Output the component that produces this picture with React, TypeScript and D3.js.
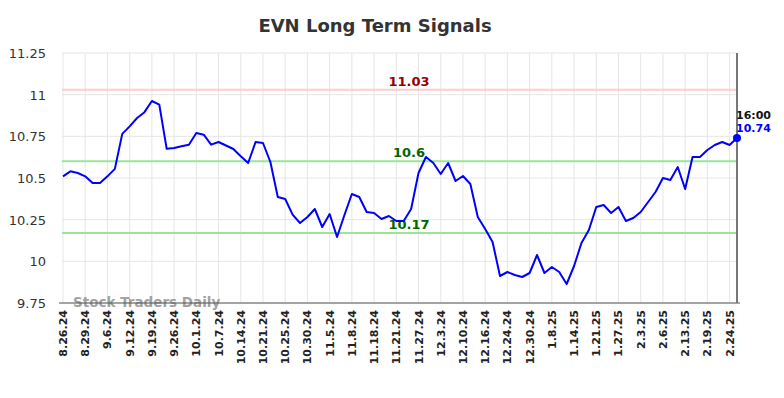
import React from "react";
import * as d3 from "d3";

const tickLabels = [
  "8.26.24","8.29.24","9.6.24","9.12.24","9.19.24","9.26.24","10.1.24","10.7.24",
  "10.14.24","10.21.24","10.25.24","10.30.24","11.5.24","11.8.24","11.18.24","11.21.24",
  "11.27.24","12.3.24","12.10.24","12.16.24","12.24.24","12.30.24","1.8.25","1.14.25",
  "1.21.25","1.27.25","2.3.25","2.6.25","2.13.25","2.19.25","2.24.25",
];
const tickStep = 3;

const prices = [
  10.51, 10.54, 10.53, 10.51, 10.47, 10.47, 10.51, 10.555, 10.765, 10.81,
  10.86, 10.895, 10.962, 10.94, 10.675, 10.68, 10.69, 10.70, 10.77, 10.76,
  10.70, 10.716, 10.695, 10.674, 10.63, 10.59, 10.716, 10.71, 10.596, 10.386,
  10.374, 10.28, 10.23, 10.266, 10.314, 10.206, 10.284, 10.146, 10.278, 10.404,
  10.386, 10.296, 10.29, 10.254, 10.272, 10.242, 10.242, 10.314, 10.53, 10.626,
  10.59, 10.524, 10.59, 10.482, 10.512, 10.464, 10.266, 10.194, 10.116, 9.912,
  9.936, 9.918, 9.906, 9.93, 10.038, 9.93, 9.966, 9.936, 9.864, 9.972,
  10.11, 10.188, 10.326, 10.338, 10.29, 10.326, 10.242, 10.26, 10.296, 10.356,
  10.416, 10.50, 10.488, 10.566, 10.434, 10.626, 10.626, 10.668, 10.698, 10.716,
  10.698, 10.74,
];

const yTicks = [11.25, 11, 10.75, 10.5, 10.25, 10, 9.75];
const yTickText = ["11.25", "11", "10.75", "10.5", "10.25", "10", "9.75"];

const signalLevels = [11.03, 10.6, 10.17];
const signalText = ["11.03", "10.6", "10.17"];
const signalLineColors = ["#ffcccc", "#99e699", "#99e699"];
const signalTextColors = ["#990000", "#006600", "#006600"];

const lastTime = "16:00";

export default function App() {
  const W = 784, H = 398;
  const left = 62, right = 737, top = 53, bottom = 303;
  const x = d3.scaleLinear().domain([0, prices.length - 1]).range([left + 1, right]);
  const y = d3.scaleLinear().domain([9.75, 11.25]).range([bottom, top]);
  const line = d3.line<number>().x((_, i) => x(i)).y((d) => y(d));
  const font = "'DejaVu Sans', sans-serif";
  const lastI = prices.length - 1;
  const lastV = prices[lastI];

  return (
    <svg width={W} height={H} style={{ position: "absolute", left: 0, top: 0 }} fontFamily={font}>
      <rect width={W} height={H} fill="#fff" />
      <text x={375} y={32} textAnchor="middle" fontSize={18} fontWeight="bold" fill="#333">EVN Long Term Signals</text>
      {/* vertical grid */}
      {tickLabels.map((t, k) => (
        <line key={"vg" + k} x1={x(k * tickStep)} x2={x(k * tickStep)} y1={top} y2={bottom} stroke="#e6e6e6" strokeWidth={1} />
      ))}
      {/* horizontal grid */}
      {yTicks.map((v, k) => (
        <line key={"hg" + k} x1={left} x2={right} y1={y(v)} y2={y(v)} stroke="#e6e6e6" strokeWidth={1} />
      ))}
      {yTicks.map((v, k) => (
        <text key={"yt" + k} x={46} y={y(v) + 5} textAnchor="end" fontSize={13} fill="#333">{yTickText[k]}</text>
      ))}
      {/* signal lines */}
      {signalLevels.map((v, k) => (
        <line key={"sl" + k} x1={left} x2={right} y1={y(v)} y2={y(v)} stroke={signalLineColors[k]} strokeWidth={2} />
      ))}
      {signalLevels.map((v, k) => (
        <text key={"st" + k} x={409} y={y(v) - 4} textAnchor="middle" fontSize={13} fontWeight="bold" fill={signalTextColors[k]}>{signalText[k]}</text>
      ))}
      {/* watermark */}
      <text x={73} y={307} fontSize={13.5} fontWeight="bold" fill="#999" opacity={0.9}>Stock Traders Daily</text>
      {/* axes */}
      <line x1={59} x2={740} y1={bottom} y2={bottom} stroke="#555" strokeWidth={1.2} />
      <line x1={right} x2={right} y1={top} y2={bottom} stroke="#777" strokeWidth={2} />
      {/* price line */}
      <path d={line(prices) || ""} fill="none" stroke="#0000ff" strokeWidth={2} strokeLinejoin="round" />
      <circle cx={x(lastI)} cy={y(lastV)} r={4} fill="#0000ff" />
      <text x={x(lastI) - 1} y={y(lastV) - 19} fontSize={11} fontWeight="bold" fill="#111">{lastTime}</text>
      <text x={x(lastI) - 1} y={y(lastV) - 6} fontSize={11} fontWeight="bold" fill="#0000ff">{lastV.toFixed(2)}</text>
      {/* x labels */}
      {tickLabels.map((t, k) => (
        <text key={"xt" + k} transform={`translate(${x(k * tickStep) + 4},${310}) rotate(-90)`} textAnchor="end" fontSize={11} fontWeight="bold" fill="#222">{t}</text>
      ))}
    </svg>
  );
}
